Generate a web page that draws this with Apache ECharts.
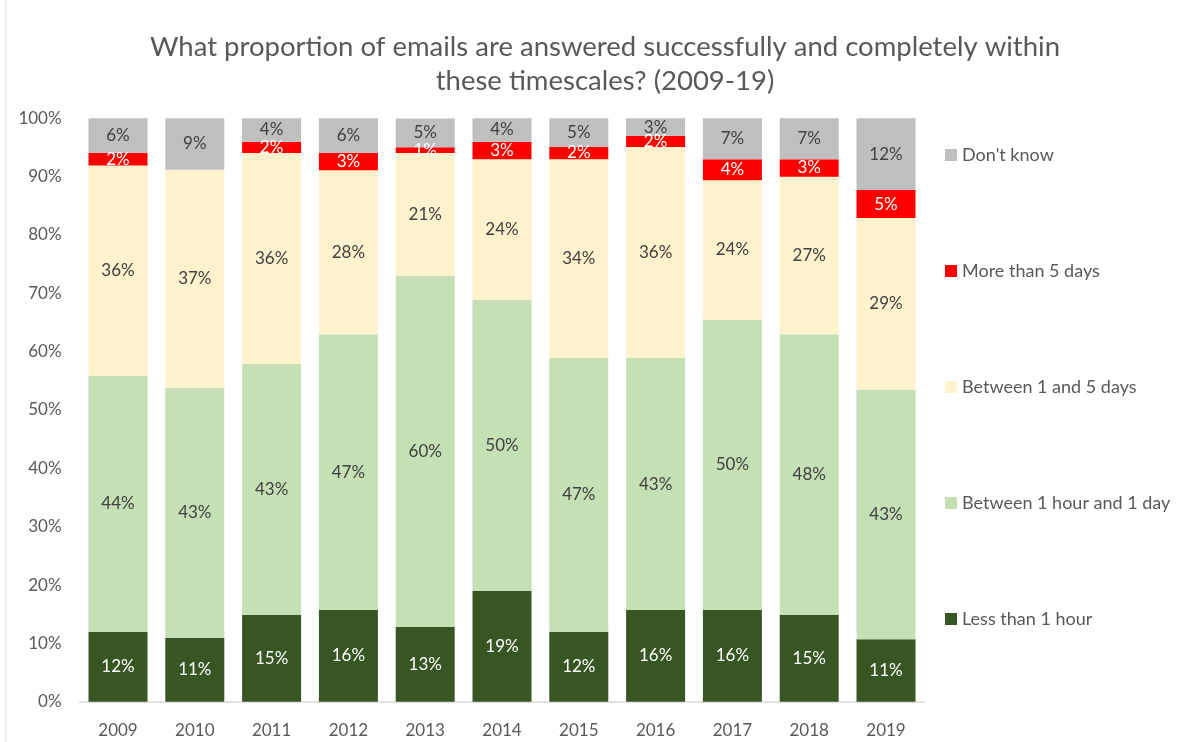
<!DOCTYPE html>
<html>
<head>
<meta charset="utf-8">
<script src="https://cdn.jsdelivr.net/npm/echarts@6/dist/echarts.min.js"></script>
<style>
html,body{margin:0;padding:0;background:#fff;}
#chart{width:1190px;height:742px;}
</style>
</head>
<body>
<div id="chart"></div>
<script>
const years = ['2009','2010','2011','2012','2013','2014','2015','2016','2017','2018','2019'];
const lessThan1Hour   = [12.0, 10.9, 14.9, 15.7, 12.8, 19.0, 12.0, 15.7, 15.7, 14.9, 10.7];
const hourToDay       = [43.9, 42.9, 43.0, 47.3, 60.2, 49.9, 46.9, 43.2, 49.8, 48.1, 42.8];
const oneToFiveDays   = [36.0, 37.4, 36.15, 28.1, 21.05, 24.1, 34.1, 36.2, 23.9, 27.0, 29.4];
const moreThan5Days   = [2.2, 0, 1.95, 3.0, 1.0, 3.0, 2.1, 1.9, 3.6, 3.0, 4.8];
const dontKnow        = [5.9, 8.8, 4.0, 5.9, 4.9, 4.0, 4.9, 3.0, 7.0, 7.0, 12.3];
const yTicks = [0,10,20,30,40,50,60,70,80,90,100];

const FONT = 'Lato, "Open Sans", sans-serif';
const fmt = p => p.value > 0.5 ? Math.round(p.value) + '%' : '';

function mk(name, data, color, labelColor) {
  return {
    name, type: 'bar', stack: 'total', data, barWidth: 59,
    itemStyle: { color },
    label: { show: true, position: 'inside', formatter: fmt, color: labelColor,
             fontFamily: FONT, fontSize: 17 },
    emphasis: { disabled: true }
  };
}

const chart = echarts.init(document.getElementById('chart'), null, { renderer: 'canvas' });
chart.setOption({
  animation: false,
  backgroundColor: '#fff',
  title: {
    text: 'What proportion of emails are answered successfully and completely within\nthese timescales? (2009-19)',
    left: 600, top: 25, textAlign: 'center',
    textStyle: { fontFamily: FONT, fontSize: 27.5, fontWeight: 'normal', color: '#595959', lineHeight: 34 }
  },
  grid: { left: 79.6, right: 265.6, top: 118.3, bottom: 40.3, containLabel: false },
  legend: {
    orient: 'vertical', left: 940, top: 141,
    itemWidth: 12, itemHeight: 12, itemGap: 98,
    icon: 'rect',
    data: ["Don't know", 'More than 5 days', 'Between 1 and 5 days', 'Between 1 hour and 1 day', 'Less than 1 hour'],
    textStyle: { fontFamily: FONT, fontSize: 18, color: '#595959', lineHeight: 17 }
  },
  xAxis: {
    type: 'category', data: years,
    axisLine: { lineStyle: { color: '#D9D9D9', width: 1.5 } },
    axisTick: { show: false },
    axisLabel: { fontFamily: FONT, fontSize: 17, color: '#595959', margin: 20 }
  },
  yAxis: {
    type: 'value', min: 0, max: 100, interval: 10,
    axisLine: { show: false }, axisTick: { show: false },
    splitLine: { show: false },
    axisLabel: { fontFamily: FONT, fontSize: 17, color: '#595959', margin: 18,
                 formatter: v => yTicks.includes(v) ? v + '%' : '' }
  },
  graphic: [{
    type: 'line', shape: { x1: 6, y1: 0, x2: 6, y2: 742 },
    style: { stroke: '#D9D9D9', lineWidth: 1 }
  }],
  series: [
    mk('Less than 1 hour', lessThan1Hour, '#375623', '#FFFFFF'),
    mk('Between 1 hour and 1 day', hourToDay, '#C5E0B4', '#404040'),
    mk('Between 1 and 5 days', oneToFiveDays, '#FFF2CC', '#404040'),
    mk('More than 5 days', moreThan5Days, '#FF0000', '#FFFFFF'),
    mk("Don't know", dontKnow, '#BFBFBF', '#404040')
  ]
});
</script>
</body>
</html>
